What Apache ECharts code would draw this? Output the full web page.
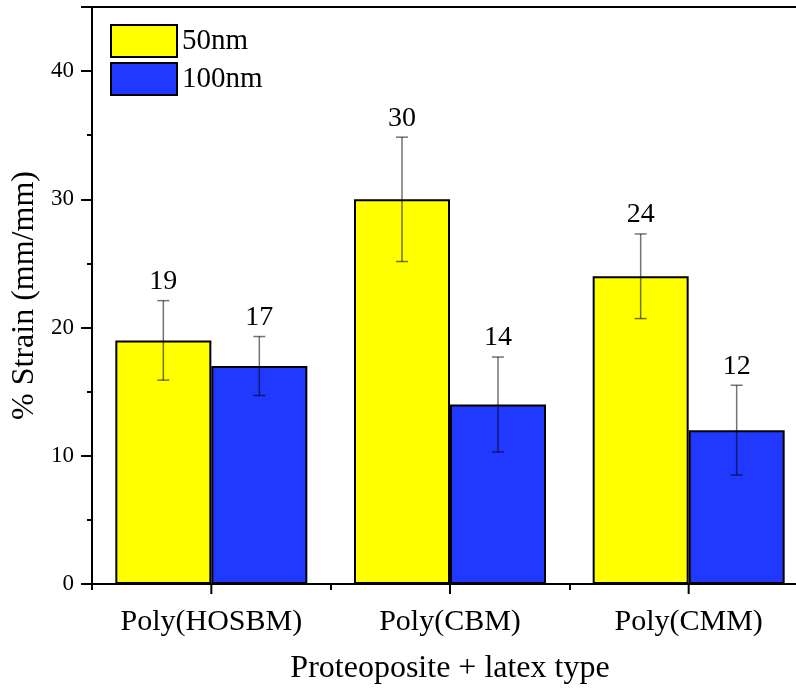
<!DOCTYPE html>
<html>
<head>
<meta charset="utf-8">
<script src="https://cdn.jsdelivr.net/npm/echarts@6/dist/echarts.min.js"></script>
<style>html,body{margin:0;padding:0;background:#fff;overflow:hidden;width:796px;height:689px;}#c{width:808px;height:689px;}</style>
</head>
<body>
<div id="c"></div>
<script>
var categories = ['Poly(HOSBM)', 'Poly(CBM)', 'Poly(CMM)'];
var strain50 = [19, 30, 24];
var err50 = [3.1, 4.85, 3.3];
var strain100 = [17, 14, 12];
var err100 = [2.3, 3.7, 3.5];
var seriesNames = ['50nm', '100nm'];
var yTicks = [0, 10, 20, 30, 40];

var FONT = "'Liberation Serif', 'Times New Roman', serif";
var BAR_W = 96;

function errData(vals, errs) {
  return vals.map(function (v, i) { return [i, v, errs[i]]; });
}
function errSeries(vals, errs, offset) {
  return {
    type: 'custom',
    z: 10,
    xAxisIndex: 0,
    data: errData(vals, errs),
    encode: { x: 0, y: 1 },
    silent: true,
    clip: false,
    renderItem: function (params, api) {
      var idx = api.value(0), v = api.value(1), e = api.value(2);
      var top = api.coord([idx, v + e]);
      var bot = api.coord([idx, v - e]);
      var x = top[0] + offset;
      var cap = 6;
      var ls = { stroke: 'rgba(0,0,0,0.55)', lineWidth: 1.5 };
      return {
        type: 'group',
        children: [
          { type: 'line', shape: { x1: x, y1: top[1], x2: x, y2: bot[1] }, style: ls },
          { type: 'line', shape: { x1: x - cap, y1: top[1], x2: x + cap, y2: top[1] }, style: ls },
          { type: 'line', shape: { x1: x - cap, y1: bot[1], x2: x + cap, y2: bot[1] }, style: ls },
          { type: 'text', style: { text: String(v), x: x, y: top[1] - 5, align: 'center', verticalAlign: 'bottom',
              font: '28px ' + FONT, fill: '#000' } }
        ]
      };
    }
  };
}

var chart = echarts.init(document.getElementById('c'), null, { renderer: 'canvas', width: 808, height: 689 });
chart.setOption({
  animation: false,
  backgroundColor: '#fff',
  grid: { left: 92, right: 0, top: 7, bottom: 105, containLabel: false, outerBoundsMode: 'none',
    show: true, borderColor: '#000', borderWidth: 2, backgroundColor: 'transparent' },
  legend: {
    orient: 'vertical', left: 110, top: 24, padding: 0, itemWidth: 66, itemHeight: 32, itemGap: 4,
    icon: 'rect',
    data: seriesNames,
    textStyle: { fontFamily: FONT, fontSize: 29, color: '#000' }
  },
  xAxis: [{
    type: 'category',
    data: categories,
    name: 'Proteoposite + latex type',
    nameLocation: 'middle',
    nameGap: 69,
    nameTextStyle: { fontFamily: FONT, fontSize: 32, color: '#000' },
    axisLine: { show: true, lineStyle: { color: '#000', width: 2 } },
    axisTick: { show: false },
    axisLabel: { interval: 0, hideOverlap: false, fontFamily: FONT, fontSize: 30, color: '#000', margin: 23 },
    splitLine: { show: false }
  }, {
    type: 'value',
    min: 0, max: categories.length, interval: 1,
    position: 'bottom',
    axisLine: { show: false },
    axisTick: { show: true, length: 6, lineStyle: { color: '#000', width: 2 } },
    axisLabel: { show: false },
    splitLine: { show: false }
  }],
  yAxis: {
    type: 'value',
    min: 0, max: 45, interval: 10,
    name: '% Strain (mm/mm)',
    nameLocation: 'middle',
    nameGap: 47,
    nameTextStyle: { fontFamily: FONT, fontSize: 32, color: '#000' },
    axisLine: { show: true, lineStyle: { color: '#000', width: 2 } },
    axisTick: { show: true, length: 11, lineStyle: { color: '#000', width: 2 } },
    minorTick: { show: true, splitNumber: 2, length: 5, lineStyle: { color: '#000', width: 2 } },
    axisLabel: { fontFamily: FONT, fontSize: 23, color: '#000', margin: 18,
      formatter: function (v) { return yTicks.indexOf(v) >= 0 ? String(v) : ''; } },
    splitLine: { show: false }
  },
  series: [{
    name: seriesNames[0],
    type: 'bar',
    xAxisIndex: 0,
    data: strain50,
    barWidth: BAR_W,
    barGap: '0%',
    itemStyle: { color: '#FFFF00', borderColor: '#000', borderWidth: 2 }
  }, {
    name: seriesNames[1],
    type: 'bar',
    xAxisIndex: 0,
    data: strain100,
    barWidth: BAR_W,
    barGap: '0%',
    itemStyle: { color: '#2138FF', borderColor: '#000', borderWidth: 2 }
  },
  errSeries(strain50, err50, -BAR_W / 2),
  errSeries(strain100, err100, BAR_W / 2)
  ]
});

// major x ticks at the category centres, positioned through the category axis scale
var tickPts = categories.map(function (c, i) {
  return chart.convertToPixel({ xAxisIndex: 0, yAxisIndex: 0 }, [i, 0]);
});
chart.setOption({
  graphic: tickPts.map(function (p) {
    return { type: 'line', z: 100, silent: true,
      shape: { x1: p[0], y1: p[1], x2: p[0], y2: p[1] + 10 },
      style: { stroke: '#000', lineWidth: 2 } };
  })
});
</script>
</body>
</html>
